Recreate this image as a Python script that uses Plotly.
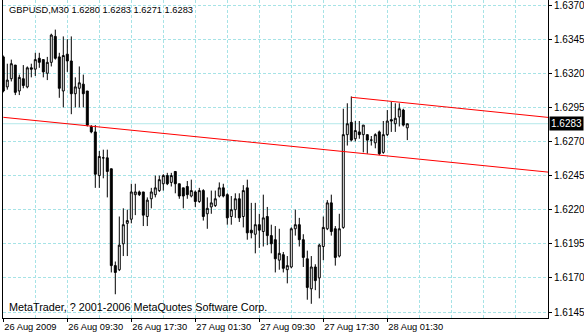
import plotly.graph_objects as go

bar_index = list(range(102))
opens = [1.6332,1.6310,1.6316,1.6326,1.6307,1.6316,1.6310,1.6324,1.6323,1.6331,
         1.6330,1.6320,1.6328,1.6347,1.6332,1.6307,1.6334,1.6329,1.6305,1.6309,
         1.6312,1.6307,1.6281,1.6277,1.6245,1.6258,1.6258,1.6250,1.6179,1.6176,
         1.6195,1.6210,1.6213,1.6231,1.6233,1.6233,1.6215,1.6228,1.6231,1.6234,
         1.6239,1.6245,1.6240,1.6248,1.6239,1.6236,1.6237,1.6230,1.6233,1.6226,
         1.6234,1.6217,1.6222,1.6223,1.6230,1.6236,1.6231,1.6215,1.6220,1.6228,
         1.6215,1.6236,1.6205,1.6202,1.6209,1.6204,1.6215,1.6201,1.6198,1.6183,
         1.6187,1.6176,1.6178,1.6206,1.6209,1.6198,1.6184,1.6162,1.6178,1.6170,
         1.6193,1.6206,1.6225,1.6206,1.6186,1.6207,1.6275,1.6284,1.6272,1.6277,
         1.6275,1.6275,1.6271,1.6269,1.6277,1.6262,1.6275,1.6286,1.6283,1.6288,
         1.6293,1.6280]
highs = [1.6333,1.6327,1.6330,1.6326,1.6319,1.6326,1.6325,1.6327,1.6335,1.6335,
         1.6330,1.6332,1.6349,1.6352,1.6335,1.6347,1.6345,1.6347,1.6317,1.6325,
         1.6319,1.6307,1.6282,1.6282,1.6263,1.6264,1.6264,1.6250,1.6182,1.6215,
         1.6221,1.6220,1.6239,1.6239,1.6234,1.6233,1.6229,1.6236,1.6245,1.6245,
         1.6246,1.6247,1.6247,1.6248,1.6239,1.6236,1.6241,1.6242,1.6234,1.6236,
         1.6235,1.6229,1.6234,1.6234,1.6240,1.6239,1.6232,1.6230,1.6232,1.6232,
         1.6238,1.6242,1.6225,1.6225,1.6217,1.6231,1.6222,1.6209,1.6208,1.6206,
         1.6189,1.6186,1.6207,1.6220,1.6214,1.6202,1.6190,1.6186,1.6180,1.6195,
         1.6215,1.6227,1.6231,1.6208,1.6217,1.6294,1.6298,1.6303,1.6285,1.6285,
         1.6282,1.6275,1.6274,1.6276,1.6278,1.6285,1.6293,1.6299,1.6298,1.6298,
         1.6294,1.6283]
lows = [1.6306,1.6308,1.6314,1.6304,1.6304,1.6309,1.6309,1.6317,1.6318,1.6324,
        1.6317,1.6315,1.6325,1.6330,1.6302,1.6295,1.6321,1.6290,1.6295,1.6295,
        1.6295,1.6281,1.6276,1.6236,1.6236,1.6243,1.6229,1.6174,1.6158,1.6175,
        1.6186,1.6186,1.6210,1.6216,1.6230,1.6208,1.6208,1.6221,1.6229,1.6233,
        1.6234,1.6238,1.6237,1.6232,1.6228,1.6221,1.6228,1.6229,1.6222,1.6225,
        1.6212,1.6206,1.6217,1.6222,1.6229,1.6229,1.6209,1.6209,1.6214,1.6211,
        1.6207,1.6198,1.6199,1.6188,1.6192,1.6193,1.6194,1.6188,1.6174,1.6176,
        1.6174,1.6166,1.6177,1.6201,1.6193,1.6178,1.6154,1.6151,1.6161,1.6155,
        1.6183,1.6205,1.6201,1.6179,1.6185,1.6206,1.6267,1.6270,1.6270,1.6272,
        1.6262,1.6261,1.6267,1.6265,1.6260,1.6261,1.6274,1.6277,1.6277,1.6281,
        1.6281,1.6271]
closes = [1.6307,1.6315,1.6327,1.6306,1.6317,1.6311,1.6324,1.6323,1.6330,1.6328,
          1.6321,1.6328,1.6348,1.6331,1.6309,1.6333,1.6329,1.6305,1.6310,1.6313,
          1.6305,1.6282,1.6277,1.6246,1.6259,1.6258,1.6248,1.6179,1.6174,1.6194,
          1.6209,1.6212,1.6233,1.6233,1.6231,1.6216,1.6227,1.6233,1.6236,1.6242,
          1.6245,1.6239,1.6245,1.6239,1.6230,1.6230,1.6231,1.6234,1.6226,1.6234,
          1.6215,1.6221,1.6225,1.6228,1.6236,1.6230,1.6214,1.6220,1.6228,1.6214,
          1.6234,1.6203,1.6203,1.6209,1.6205,1.6214,1.6201,1.6195,1.6184,1.6188,
          1.6177,1.6179,1.6206,1.6209,1.6198,1.6185,1.6163,1.6178,1.6168,1.6194,
          1.6207,1.6225,1.6204,1.6185,1.6206,1.6275,1.6283,1.6271,1.6278,1.6275,
          1.6282,1.6271,1.6271,1.6275,1.6261,1.6275,1.6285,1.6285,1.6287,1.6294,
          1.6282,1.6283]

tick_bars = [0, 16, 32, 48, 64, 80, 96]
tick_labels = ["26 Aug 2009", "26 Aug 09:30", "26 Aug 17:30", "27 Aug 01:30",
               "27 Aug 09:30", "27 Aug 17:30", "28 Aug 01:30"]
price_ticks = [1.6145, 1.6170, 1.6195, 1.6220, 1.6245, 1.6270, 1.6295, 1.6320, 1.6345, 1.6370]

# trend lines: (bar, price) anchor pairs
lower_line_bars = [0, 136]
lower_line_prices = [1.62877, 1.62476]
upper_line_bars = [87, 136]
upper_line_prices = [1.63024, 1.62877]

symbol = "GBPUSD,M30"
copyright_text = "MetaTrader, ? 2001-2006 MetaQuotes Software Corp."

X0, X1 = -0.075, 136.175
Y0, Y1 = 1.61406, 1.63737
FONT = "Liberation Sans, Arial, sans-serif"
GRID = "#a6e3e6"
DASH = "3px,2px"

def extend(bars, prices, x_end):
    slope = (prices[1] - prices[0]) / (bars[1] - bars[0])
    return [bars[0], x_end], [prices[0], prices[0] + slope * (x_end - bars[0])]

fig = go.Figure()
for bars, prices in [(lower_line_bars, lower_line_prices), (upper_line_bars, upper_line_prices)]:
    lx, ly = extend(bars, prices, X1 + 1)
    fig.add_trace(go.Scatter(x=lx, y=ly, mode="lines", line=dict(color="#ff0000", width=1),
                             hoverinfo="skip", showlegend=False))

fig.add_trace(go.Candlestick(
    x=bar_index, open=opens, high=highs, low=lows, close=closes,
    increasing=dict(line=dict(color="black", width=1), fillcolor="white"),
    decreasing=dict(line=dict(color="black", width=1), fillcolor="black"),
    whiskerwidth=0, showlegend=False, hoverinfo="skip"))

last_close = closes[-1]
fig.add_shape(type="line", xref="paper", x0=0, x1=1, y0=last_close, y1=last_close,
              line=dict(color="#b4e8ea", width=1), layer="below")

fig.add_annotation(xref="paper", yref="y", x=1, y=last_close, xanchor="left", yanchor="middle",
                   text=f"{last_close:.4f}", showarrow=False, bgcolor="black",
                   font=dict(color="white", size=10, family=FONT), borderpad=1, xshift=1)

header = f"{symbol} {opens[-1]:.4f} {highs[-1]:.4f} {lows[-1]:.4f} {closes[-1]:.4f}"
fig.add_annotation(xref="paper", yref="paper", x=0, y=1, xanchor="left", yanchor="top",
                   text=header, showarrow=False, xshift=4, yshift=-3,
                   font=dict(color="black", size=9.3, family=FONT))
fig.add_annotation(xref="paper", yref="paper", x=0, y=0, xanchor="left", yanchor="bottom",
                   text=copyright_text, showarrow=False, xshift=4, yshift=3,
                   font=dict(color="black", size=10.8, family=FONT))

fig.update_layout(
    width=584, height=332,
    margin=dict(l=3, r=36, t=0, b=14, autoexpand=False),
    paper_bgcolor="white", plot_bgcolor="white",
    hovermode=False, showlegend=False,
    xaxis=dict(range=[X0, X1], rangeslider=dict(visible=False), automargin=False,
               tickmode="array", tickvals=tick_bars, ticktext=tick_labels, tickangle=0,
               ticks="outside", ticklen=3, tickcolor="black",
               ticklabelposition="outside right", ticklabeloverflow="allow",
               showgrid=True, gridcolor=GRID, griddash=DASH, gridwidth=1,
               minor=dict(tick0=0, dtick=8, showgrid=True, gridcolor=GRID, griddash=DASH, ticks=""),
               showline=True, linecolor="black", linewidth=1,
               zeroline=False,
               tickfont=dict(color="black", size=9.3, family=FONT)),
    yaxis=dict(range=[Y0, Y1], side="right", automargin=False,
               tickmode="array", tickvals=price_ticks,
               ticktext=[f"{p:.4f}" for p in price_ticks],
               ticks="outside", ticklen=3, tickcolor="black", ticklabeloverflow="allow",
               showgrid=True, gridcolor=GRID, griddash=DASH, gridwidth=1,
               showline=True, linecolor="black", linewidth=1, mirror=True,
               zeroline=False,
               tickfont=dict(color="black", size=10, family=FONT)),
)

fig.write_html("out.html")
